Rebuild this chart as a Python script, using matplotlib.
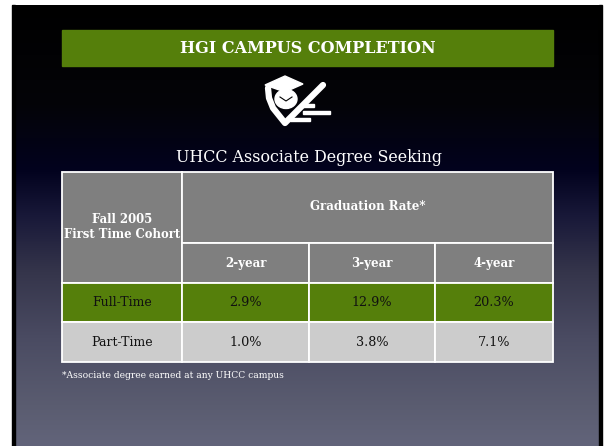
import matplotlib
matplotlib.use("Agg")
import matplotlib.pyplot as plt
import numpy as np
from matplotlib.patches import Rectangle, Polygon, Ellipse

title = "HGI CAMPUS COMPLETION"
subtitle = "UHCC Associate Degree Seeking"
corner_label = "Fall 2005\nFirst Time Cohort"
group_label = "Graduation Rate*"
periods = ["2-year", "3-year", "4-year"]
cohorts = ["Full-Time", "Part-Time"]
full_time = [2.9, 12.9, 20.3]
part_time = [1.0, 3.8, 7.1]
footnote = "*Associate degree earned at any UHCC campus"

green = "#557f0b"
grey = "#7f7f7f"
light = "#cccccc"
serif = "DejaVu Serif"

fig = plt.figure(figsize=(6.04, 4.46), dpi=100)
fig.patch.set_facecolor("white")
ax = fig.add_axes([0, 0, 1, 1])
ax.set_xlim(0, 604)
ax.set_ylim(446, 0)
ax.axis("off")

# slide background: black top fading to slate blue
stops_y = [0, 100, 165, 210, 267, 333, 400, 441]
stops_c = np.array([[0, 0, 0], [4, 4, 8], [2, 2, 30], [24, 24, 56],
                    [53, 53, 75], [74, 75, 98], [90, 92, 112], [98, 100, 122]]) / 255
yy = np.linspace(0, 441, 442)
grad = np.stack([np.interp(yy, stops_y, stops_c[:, k]) for k in range(3)], axis=-1)
grad = np.repeat(grad[:, None, :], 2, axis=1)
ax.imshow(grad, extent=[12, 602, 446, 5], aspect="auto", interpolation="bilinear", zorder=0)
ax.add_patch(Rectangle((12, 5), 3, 441, color="black", zorder=1))
ax.add_patch(Rectangle((599, 5), 3, 441, color="black", zorder=1))

# title bar
ax.add_patch(Rectangle((62, 30), 491, 36, color=green, zorder=2))
ax.text(307.5, 48.5, title, color="white", fontsize=11.5, fontweight="bold",
        family=serif, ha="center", va="center", zorder=3)

# little logo: mortarboard, head, check mark and text lines
ax.add_patch(Ellipse((286, 99), 22, 19, color="white", zorder=3))
ax.add_patch(Polygon([(265, 85), (285, 76), (303, 84), (285, 92)], closed=True,
                     color="white", zorder=4))
ax.plot([280, 286, 292], [97, 101, 97], color="black", lw=0.8, zorder=4)
ax.plot([268, 269, 273, 285, 323], [88, 98, 108, 123, 85], color="white",
        lw=4.5, solid_capstyle="round", solid_joinstyle="round", zorder=5)
for y0, x0, w in [(104, 303, 11), (111, 303, 27), (118, 290, 20)]:
    ax.add_patch(Rectangle((x0, y0), w, 3, color="white", zorder=5))

ax.text(308.5, 158, subtitle, color="white", fontsize=11.4, family=serif,
        ha="center", va="center", zorder=3)

# table
col_edges = [62, 182, 309, 435, 553]
row_edges = [172, 243, 283, 322, 362]
lw = 1.3


def cell(x0, x1, y0, y1, fc):
    ax.add_patch(Rectangle((x0, y0), x1 - x0, y1 - y0, facecolor=fc,
                           edgecolor="white", lw=lw, zorder=6))


cell(col_edges[0], col_edges[1], row_edges[0], row_edges[2], grey)
ax.text((col_edges[0] + col_edges[1]) / 2, 227, corner_label, color="white",
        fontsize=8.4, fontweight="bold", family=serif, ha="center", va="center",
        linespacing=1.25, zorder=7)
cell(col_edges[1], col_edges[4], row_edges[0], row_edges[1], grey)
ax.text((col_edges[1] + col_edges[4]) / 2, (row_edges[0] + row_edges[1]) / 2 - 1,
        group_label, color="white", fontsize=8.5, fontweight="bold", family=serif,
        ha="center", va="center", zorder=7)
for i, p in enumerate(periods):
    cell(col_edges[i + 1], col_edges[i + 2], row_edges[1], row_edges[2], grey)
    ax.text((col_edges[i + 1] + col_edges[i + 2]) / 2, (row_edges[1] + row_edges[2]) / 2,
            p, color="white", fontsize=8.5, fontweight="bold", family=serif,
            ha="center", va="center", zorder=7)

for r, (name, vals, fc) in enumerate(zip(cohorts, [full_time, part_time], [green, light])):
    y0, y1 = row_edges[r + 2], row_edges[r + 3]
    cell(col_edges[0], col_edges[1], y0, y1, fc)
    ax.text((col_edges[0] + col_edges[1]) / 2, (y0 + y1) / 2, name, color="#111111",
            fontsize=9, family=serif, ha="center", va="center", zorder=7)
    for i, v in enumerate(vals):
        cell(col_edges[i + 1], col_edges[i + 2], y0, y1, fc)
        ax.text((col_edges[i + 1] + col_edges[i + 2]) / 2, (y0 + y1) / 2, f"{v:.1f}%",
                color="#111111", fontsize=9.2, family=serif, ha="center", va="center", zorder=7)

ax.text(62, 375, footnote, color="white", fontsize=6.6, family=serif,
        ha="left", va="center", zorder=7)

fig.savefig("out.png", dpi=100, facecolor=fig.get_facecolor())
